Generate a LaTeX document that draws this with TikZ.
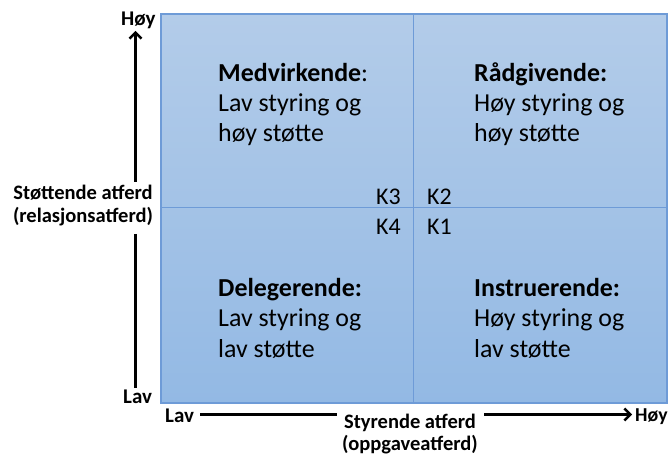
\documentclass[tikz,border=0pt]{standalone}
\usepackage{fontspec}
\setmainfont{Carlito}
\usetikzlibrary{arrows.meta}
\definecolor{boxtop}{RGB}{179,204,233}
\definecolor{boxbot}{RGB}{147,185,228}
\definecolor{boxline}{RGB}{110,155,215}
\tikzset{
  qtitle/.style={anchor=base west,inner sep=0pt,font=\fontsize{26}{30}\selectfont\bfseries},
  qtext/.style={anchor=base west,inner sep=0pt,font=\fontsize{26}{30}\selectfont},
  klabel/.style={anchor=base west,inner sep=0pt,font=\fontsize{24}{28}\selectfont},
  axtitle/.style={anchor=base,inner sep=0pt,font=\fontsize{20.6}{24}\selectfont\bfseries},
  axend/.style={anchor=base west,inner sep=0pt,font=\fontsize{21}{24}\selectfont\bfseries},
  axis/.style={line width=2.4bp,black},
  tip/.style={-{Straight Barb[length=6bp,width=12bp,line width=2.4bp]}},
}
\begin{document}
\begin{tikzpicture}[x=1bp,y=-1bp]
\useasboundingbox (0,0) rectangle (669,455);
% box
\shade[top color=boxtop,bottom color=boxbot] (161,14) rectangle (667,403);
\draw[boxline,line width=1.2bp] (161,14) rectangle (667,403);
\draw[boxline,line width=1bp] (413,14) -- (413,403);
\draw[boxline,line width=1bp] (161,208) -- (667,208);
% quadrant texts
\node[qtitle] (q3t) at (218,82) {Medvirkende\textmd{:}};
\node[qtext] (q3a) at (218,112) {Lav styring og};
\node[qtext] (q3b) at (218,142) {høy støtte};
\node[qtitle] (q2t) at (474,82) {Rådgivende:};
\node[qtext] (q2a) at (474,112) {Høy styring og};
\node[qtext] (q2b) at (474,142) {høy støtte};
\node[qtitle] (q4t) at (218,297) {Delegerende:};
\node[qtext] (q4a) at (218,327) {Lav styring og};
\node[qtext] (q4b) at (218,357) {lav støtte};
\node[qtitle] (q1t) at (474,297) {Instruerende:};
\node[qtext] (q1a) at (474,327) {Høy styring og};
\node[qtext] (q1b) at (474,357) {lav støtte};
% K labels
\node[klabel] (k3) at (376,205) {K3};
\node[klabel] (k2) at (427,205) {K2};
\node[klabel] (k4) at (376,235) {K4};
\node[klabel] (k1) at (427,235) {K1};
% vertical axis
\node[axend] (vhigh) at (121,26) {Høy};
\node[axend] (vlow) at (123,403) {Lav};
\node[axtitle] (vt1) at (83,200) {Støttende atferd};
\node[axtitle] (vt2) at (83,223) {(relasjonsatferd)};
\coordinate (vtop) at (135.5,31);
\coordinate (vmid1) at (135.5,182);
\coordinate (vmid2) at (135.5,234);
\coordinate (vbot) at (135.5,388);
\draw[axis,tip] (vmid1) -- (vtop);
\draw[axis] (vmid2) -- (vbot);
% horizontal axis
\node[axend] (hlow) at (165,422) {Lav};
\node[axend,font=\fontsize{19.8}{23}\selectfont\bfseries] (hhigh) at (635,421) {Høy};
\node[axtitle] (ht1) at (410,428) {Styrende atferd};
\node[axtitle] (ht2) at (410,450) {(oppgaveatferd)};
\coordinate (hleft) at (200,414.5);
\coordinate (hmid1) at (337,414.5);
\coordinate (hmid2) at (484,414.5);
\coordinate (hright) at (632,414.5);
\draw[axis] (hleft) -- (hmid1);
\draw[axis,tip] (hmid2) -- (hright);
\end{tikzpicture}
\end{document}
